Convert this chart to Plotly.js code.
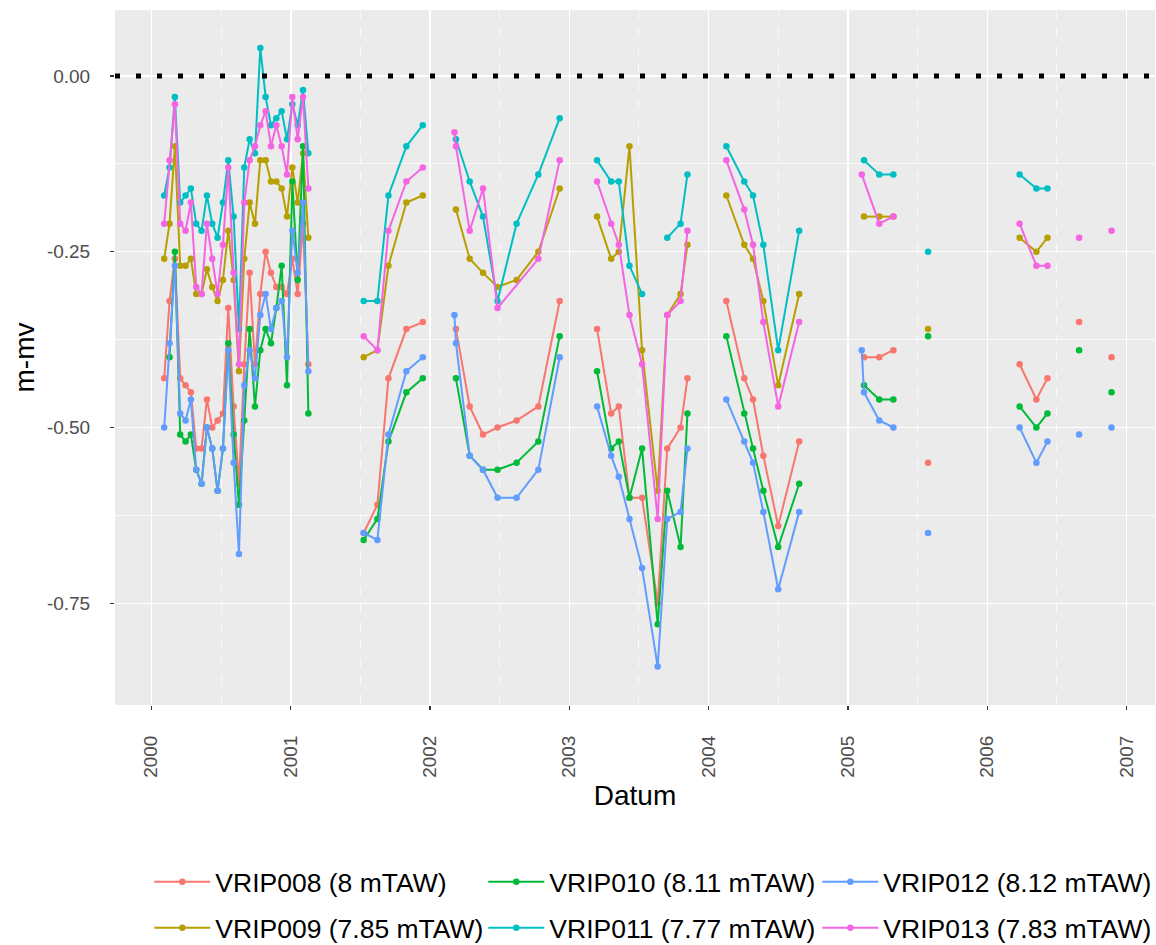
<!DOCTYPE html>
<html>
<head>
<meta charset="utf-8">
<script src="https://cdn.plot.ly/plotly-3.0.1.min.js"></script>
<style>
  html, body { margin: 0; padding: 0; background: #ffffff; }
  #chart { width: 1156px; height: 945px; }
</style>
</head>
<body>
<div id="chart"></div>
<script>
const NA = null;        // missing measurement: line is broken
const SKIP = undefined; // no row for this series: line continues

const dates = [
  '2000-02-04','2000-02-18','2000-03-03','2000-03-17','2000-03-31','2000-04-14','2000-04-28',
  '2000-05-12','2000-05-26','2000-06-09','2000-06-23','2000-07-07','2000-07-21','2000-08-04',
  '2000-08-18','2000-09-01','2000-09-15','2000-09-29','2000-10-13','2000-10-27','2000-11-10',
  '2000-11-24','2000-12-08','2000-12-22','2001-01-05','2001-01-19','2001-02-02','2001-02-16',
  '2001-05-01',
  '2001-07-11','2001-08-16','2001-09-14','2001-10-31','2001-12-13',
  '2002-01-20',
  '2002-03-06','2002-03-10','2002-04-15','2002-05-20','2002-06-27','2002-08-16','2002-10-12','2002-12-07',
  '2003-01-20',
  '2003-03-15','2003-04-21','2003-05-11','2003-06-08','2003-07-11','2003-08-21','2003-09-15','2003-10-20','2003-11-07',
  '2004-01-01',
  '2004-02-17','2004-04-04','2004-04-27','2004-05-24','2004-07-02','2004-08-26',
  '2004-12-01',
  '2005-02-06','2005-02-12','2005-03-24','2005-04-30',
  '2005-06-15',
  '2005-07-30',
  '2005-11-01',
  '2006-03-27','2006-05-10','2006-06-08',
  '2006-07-20',
  '2006-08-30',
  '2006-10-10',
  '2006-11-23'
];

const vrip008 = [
  -0.43,-0.32,-0.26,-0.43,-0.44,-0.45,-0.53,-0.53,-0.46,-0.50,-0.49,-0.48,-0.33,-0.47,-0.58,-0.41,-0.28,-0.41,-0.31,-0.25,-0.28,-0.30,-0.30,-0.31,-0.26,-0.31,-0.21,-0.41,
  NA,
  -0.65,-0.61,-0.43,-0.36,-0.35,
  NA,
  SKIP,-0.36,-0.47,-0.51,-0.50,-0.49,-0.47,-0.32,
  NA,
  -0.36,-0.48,-0.47,-0.60,-0.60,-0.75,-0.53,-0.50,-0.43,
  NA,
  -0.32,-0.43,-0.46,-0.54,-0.64,-0.52,
  NA,
  SKIP,-0.40,-0.40,-0.39,
  NA,
  -0.55,
  NA,
  -0.41,-0.46,-0.43,
  NA,
  -0.35,
  NA,
  -0.40
];

const vrip009 = [
  -0.26,-0.21,-0.10,-0.27,-0.27,-0.26,-0.31,-0.31,-0.275,-0.30,-0.32,-0.29,-0.22,-0.29,-0.42,-0.26,-0.18,-0.21,-0.12,-0.12,-0.15,-0.15,-0.16,-0.20,-0.13,-0.18,-0.11,-0.23,
  NA,
  -0.40,-0.39,-0.27,-0.18,-0.17,
  NA,
  SKIP,-0.19,-0.26,-0.28,-0.30,-0.29,-0.25,-0.16,
  NA,
  -0.20,-0.26,-0.25,-0.10,-0.39,-0.59,-0.34,-0.31,-0.24,
  NA,
  -0.17,-0.24,-0.26,-0.32,-0.44,-0.31,
  NA,
  SKIP,-0.20,-0.20,-0.20,
  NA,
  -0.36,
  NA,
  -0.23,-0.25,-0.23,
  NA,
  NA,
  NA,
  NA
];

const vrip010 = [
  NA,-0.40,-0.25,-0.51,-0.52,-0.51,-0.56,-0.58,-0.50,-0.53,-0.59,-0.53,-0.38,-0.51,-0.61,-0.49,-0.36,-0.47,-0.39,-0.36,-0.38,-0.33,-0.27,-0.44,-0.15,-0.29,-0.10,-0.48,
  NA,
  -0.66,-0.63,-0.52,-0.45,-0.43,
  NA,
  SKIP,-0.43,-0.54,-0.56,-0.56,-0.55,-0.52,-0.37,
  NA,
  -0.42,-0.53,-0.52,-0.60,-0.53,-0.78,-0.59,-0.67,-0.48,
  NA,
  -0.37,-0.48,-0.53,-0.59,-0.67,-0.58,
  NA,
  SKIP,-0.44,-0.46,-0.46,
  NA,
  -0.37,
  NA,
  -0.47,-0.50,-0.48,
  NA,
  -0.39,
  NA,
  -0.45
];

const vrip011 = [
  -0.17,-0.13,-0.03,-0.18,-0.17,-0.16,-0.21,-0.22,-0.17,-0.21,-0.23,-0.18,-0.12,-0.20,-0.36,-0.13,-0.09,-0.11,0.04,-0.03,-0.07,-0.06,-0.05,-0.09,-0.04,-0.07,-0.02,-0.11,
  NA,
  -0.32,-0.32,-0.17,-0.10,-0.07,
  NA,
  SKIP,-0.09,-0.15,-0.20,-0.32,-0.21,-0.14,-0.06,
  NA,
  -0.12,-0.15,-0.15,-0.27,-0.31,NA,-0.23,-0.21,-0.14,
  NA,
  -0.10,-0.15,-0.17,-0.24,-0.39,-0.22,
  NA,
  SKIP,-0.12,-0.14,-0.14,
  NA,
  -0.25,
  NA,
  -0.14,-0.16,-0.16,
  NA,
  NA,
  NA,
  NA
];

const vrip012 = [
  -0.50,-0.38,-0.27,-0.48,-0.49,-0.46,-0.56,-0.58,-0.50,-0.53,-0.59,-0.53,-0.39,-0.55,-0.68,-0.44,-0.39,-0.43,-0.34,-0.31,-0.36,-0.33,-0.32,-0.40,-0.22,-0.28,-0.18,-0.42,
  NA,
  -0.65,-0.66,-0.51,-0.42,-0.40,
  NA,
  -0.34,-0.38,-0.54,-0.56,-0.60,-0.60,-0.56,-0.40,
  NA,
  -0.47,-0.54,-0.57,-0.63,-0.70,-0.84,-0.63,-0.62,-0.53,
  NA,
  -0.46,-0.52,-0.55,-0.62,-0.73,-0.62,
  NA,
  -0.39,-0.45,-0.49,-0.50,
  NA,
  -0.65,
  NA,
  -0.50,-0.55,-0.52,
  NA,
  -0.51,
  NA,
  -0.50
];

const vrip013 = [
  -0.21,-0.12,-0.04,-0.21,-0.22,-0.18,-0.30,-0.31,-0.21,-0.26,-0.31,-0.24,-0.13,-0.28,-0.41,-0.18,-0.12,-0.10,-0.07,-0.05,-0.10,-0.07,-0.10,-0.14,-0.03,-0.09,-0.03,-0.16,
  NA,
  -0.37,-0.39,-0.22,-0.15,-0.13,
  NA,
  -0.08,-0.10,-0.22,-0.16,-0.33,SKIP,-0.26,-0.12,
  NA,
  -0.15,-0.21,-0.24,-0.34,-0.41,-0.63,-0.34,-0.32,-0.22,
  NA,
  -0.12,-0.19,-0.24,-0.35,-0.47,-0.35,
  NA,
  -0.14,SKIP,-0.21,-0.20,
  NA,
  NA,
  NA,
  -0.21,-0.27,-0.27,
  NA,
  -0.23,
  NA,
  -0.22
];

const seriesNames = [
  'VRIP008 (8 mTAW)', 'VRIP009 (7.85 mTAW)', 'VRIP010 (8.11 mTAW)',
  'VRIP011 (7.77 mTAW)', 'VRIP012 (8.12 mTAW)', 'VRIP013 (7.83 mTAW)'
];
const seriesValues = [vrip008, vrip009, vrip010, vrip011, vrip012, vrip013];
const seriesColors = ['#F8766D', '#B79F00', '#00BA38', '#00BFC4', '#619CFF', '#F564E3'];
// legend laid out column-wise like ggplot: odd series in row 1, even in row 2
const legendRow = ['legend', 'legend2', 'legend', 'legend2', 'legend', 'legend2'];

const yTicks = [0, -0.25, -0.5, -0.75];
const yTickText = ['0.00', '-0.25', '-0.50', '-0.75'];
const yMinorTicks = [-0.125, -0.375, -0.625];
const xTicks = ['2000-01-01','2001-01-01','2002-01-01','2003-01-01','2004-01-01','2005-01-01','2006-01-01','2007-01-01'];
const xTickText = ['2000','2001','2002','2003','2004','2005','2006','2007'];
const xMinorTicks = ['2000-07-02','2001-07-02','2002-07-02','2003-07-02','2004-07-02','2005-07-02','2006-07-02'];

const FONT = 'Liberation Sans, Arial, sans-serif';

const traces = seriesValues.map((vals, k) => {
  const x = [], y = [];
  vals.forEach((v, i) => {
    if (v === undefined) return;
    x.push(dates[i]);
    y.push(v);
  });
  return {
    type: 'scatter',
    mode: 'lines+markers',
    name: seriesNames[k],
    x: x,
    y: y,
    connectgaps: false,
    line: { color: seriesColors[k], width: 2 },
    marker: { color: seriesColors[k], size: 6.5 },
    legend: legendRow[k]
  };
});

function legendRowLayout(yPaper) {
  return {
    orientation: 'h',
    x: 0.033,
    xanchor: 'left',
    y: yPaper,
    yanchor: 'middle',
    entrywidth: 263,
    entrywidthmode: 'pixels',
    itemwidth: 56,
    font: { family: FONT, size: 26.5, color: '#000000' },
    bgcolor: 'rgba(0,0,0,0)'
  };
}

const layout = {
  width: 1156,
  height: 945,
  margin: { l: 115, r: 1, t: 10, b: 240, autoexpand: false },
  paper_bgcolor: '#ffffff',
  plot_bgcolor: '#EBEBEB',
  font: { family: FONT, color: '#000000' },
  showlegend: true,
  legend: legendRowLayout(-0.2547),
  legend2: legendRowLayout(-0.3209),
  xaxis: {
    type: 'date',
    range: ['1999-09-28', '2007-03-17'],
    tickmode: 'array',
    tickvals: xTicks,
    ticktext: xTickText,
    tickangle: -90,
    ticks: 'outside',
    ticklen: 4,
    tickwidth: 1.2,
    tickcolor: '#333333',
    ticklabelstandoff: 18,
    tickfont: { family: FONT, size: 19, color: '#4D4D4D' },
    showgrid: true,
    gridcolor: '#ffffff',
    gridwidth: 1.4,
    zeroline: false,
    showline: false,
    automargin: false,
    minor: {
      tickmode: 'array',
      tickvals: xMinorTicks,
      showgrid: true,
      gridcolor: '#ffffff',
      gridwidth: 0.7,
      griddash: 'dash',
      ticks: ''
    },
    title: { text: 'Datum', font: { family: FONT, size: 28, color: '#000000' }, standoff: 8 }
  },
  yaxis: {
    range: [-0.8947, 0.0939],
    tickmode: 'array',
    tickvals: yTicks,
    ticktext: yTickText,
    ticks: 'outside',
    ticklen: 4,
    tickwidth: 1.2,
    tickcolor: '#333333',
    ticklabelstandoff: 16,
    tickfont: { family: FONT, size: 19, color: '#4D4D4D' },
    showgrid: true,
    gridcolor: '#ffffff',
    gridwidth: 1.4,
    zeroline: false,
    showline: false,
    automargin: false,
    minor: {
      tickmode: 'array',
      tickvals: yMinorTicks,
      showgrid: true,
      gridcolor: '#ffffff',
      gridwidth: 0.7,
      ticks: ''
    },
    title: { text: 'm-mv', font: { family: FONT, size: 28, color: '#000000' }, standoff: 4 }
  },
  shapes: [{
    type: 'line',
    xref: 'paper', x0: 0, x1: 1,
    yref: 'y', y0: 0, y1: 0,
    line: { color: '#000000', width: 5, dash: '5px,16px' },
    layer: 'above'
  }]
};

Plotly.newPlot('chart', traces, layout, { displayModeBar: false, staticPlot: true });
</script>
</body>
</html>
